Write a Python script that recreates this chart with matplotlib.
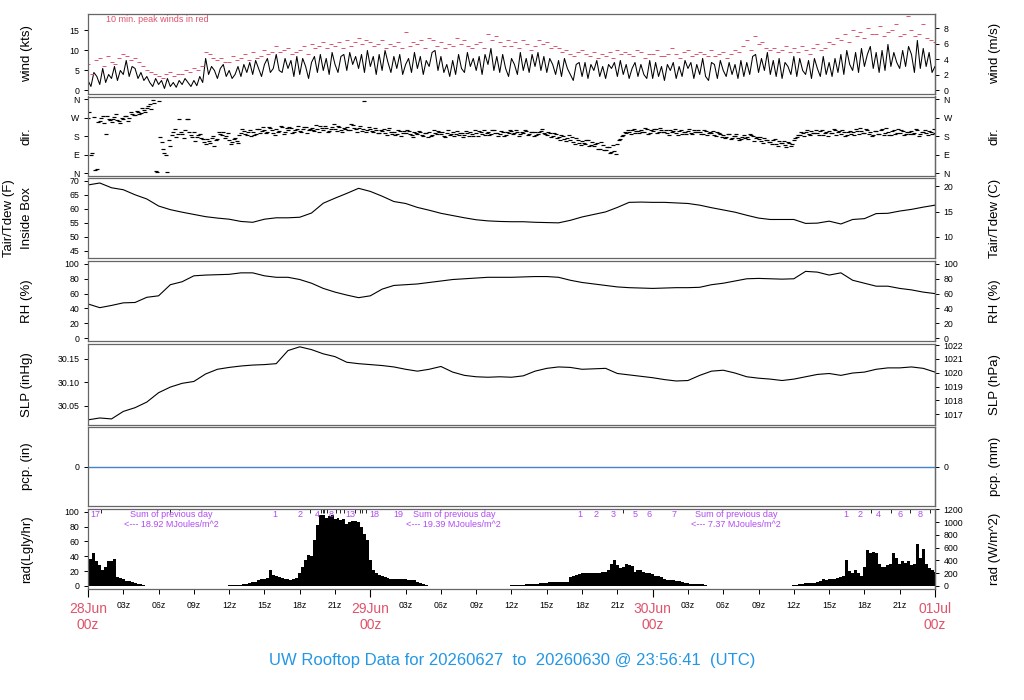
import matplotlib
matplotlib.use('Agg')
import matplotlib.pyplot as plt
import numpy as np

plt.rcParams['font.family'] = ['Liberation Sans', 'DejaVu Sans']

# ---------------- data (hours since 28Jun 00z) ----------------
# wind speed (kts), every 15 min
wind_kts = [
 2.5,1.0,4.5,3.5, 1.5,5.5,2.0,4.0, 3.0,6.0,2.5,5.0, 4.0,7.5,3.5,6.0, 5.5,3.0,4.5,2.5,
 3.5,2.0,1.0,3.0, 1.5,2.5,0.5,3.0, 1.0,2.0,0.8,2.5, 1.5,3.0,2.0,1.0, 2.5,1.2,3.5,2.0,
 8.0,4.0,6.0,5.0, 3.0,5.5,6.5,3.5, 5.0,3.0,4.0,6.0, 3.5,6.5,4.5,7.0, 4.0,7.5,5.5,3.5,
 6.5,8.0,4.5,5.5, 9.0,5.0,4.5,8.0, 5.5,7.5,3.5,8.5, 4.0,8.0,6.0,3.0, 7.0,8.5,4.5,9.0,
 5.0,8.0,4.0,9.5, 6.5,4.5,8.5,9.0, 5.0,9.5,6.5,8.5, 5.5,9.0,4.5,10.0, 6.0,8.5,4.0,9.0,
 5.0,10.0,7.0,4.5, 8.5,5.5,9.0,4.0, 6.5,8.0,4.5,9.5, 5.5,8.5,4.0,7.5, 6.0,9.5,10.0,5.0,
 8.5,4.5,6.5,3.5, 7.5,4.0,9.0,5.5, 4.5,9.5,6.0,8.0, 5.0,8.5,4.0,9.0, 6.5,10.5,5.0,8.5,
 4.5,9.0,5.5,3.5, 8.0,6.5,4.0,9.5, 5.0,8.0,4.5,9.0, 6.0,9.5,5.0,8.5, 4.5,8.0,6.5,4.0,
 7.5,3.5,8.0,5.5, 4.0,2.5,6.5,7.0, 3.5,7.0,3.0,6.5, 5.0,7.5,3.5,6.0, 3.0,6.5,5.5,7.0,
 3.5,7.5,4.0,6.5, 3.0,5.5,7.0,3.5, 6.5,4.0,3.0,7.5, 3.0,7.0,3.5,6.0, 2.5,6.5,5.0,7.0,
 3.0,6.0,3.5,7.5, 5.5,7.0,3.0,6.5, 4.0,8.0,3.5,2.5, 7.0,6.5,3.0,7.5, 5.0,3.5,7.0,4.0,
 6.5,3.0,7.5,3.5, 7.0,4.0,8.5,9.0, 4.5,8.0,5.0,9.5, 4.0,7.5,3.5,8.0, 3.0,7.0,6.0,4.0,
 8.5,3.5,8.0,5.0, 4.0,7.5,3.0,8.0, 5.5,3.5,8.5,4.0, 7.0,3.5,8.0,4.5, 9.0,4.0,10.0,6.5,
 5.0,9.5,4.5,10.5, 6.0,9.0,11.0,5.5, 9.5,4.5,10.0,5.0, 11.5,6.0,9.5,7.0, 5.5,10.0,6.0,11.0,
 9.0,4.5,12.5,5.5, 10.5,6.0,9.5,4.5, 6.0]

# 10-min peak winds (kts), every 20 min
gust_kts = [
 6.5,4.0,7.5, 8.0,6.0,8.5, 7.0,6.5,8.0, 9.0,8.5,7.5, 8.0,7.0,6.0, 5.0,4.5,4.0,
 3.5,3.0,4.0, 4.5,3.5,4.0, 4.0,5.0,4.5, 5.5,5.0,6.0, 9.5,9.0,8.0, 7.5,8.0,7.0,
 7.0,8.5,7.5, 8.0,9.0,7.5, 9.5,8.0,8.5, 10.0,9.0,9.5, 11.0,9.5,10.0, 10.5,9.0,9.5,
 10.0,11.0,9.0, 11.5,10.5,11.0, 12.0,10.5,11.5, 11.0,12.0,10.5, 12.5,11.0,12.0, 13.0,11.5,12.5,
 12.0,11.0,11.5, 12.5,10.5,11.5, 11.0,12.0,10.5, 14.5,11.0,12.0, 11.5,12.5,10.5, 13.0,12.5,11.0,
 12.0,10.5,11.5, 11.0,13.0,11.5, 12.5,11.0,10.5, 11.5,12.0,10.5, 14.0,12.5,13.5, 12.0,11.0,12.5,
 11.0,12.0,10.5, 12.5,11.5,10.0, 11.0,12.5,11.5, 12.0,10.5,11.0, 10.5,9.5,10.0, 9.0,8.5,9.5,
 10.0,9.0,8.5, 9.5,8.0,9.0, 8.5,9.5,8.0, 10.0,9.0,9.5, 9.0,8.5,10.0, 9.5,8.0,9.0,
 9.0,10.0,8.5, 8.5,9.0,10.5, 9.0,8.0,9.5, 10.0,8.5,9.0, 9.5,9.0,8.5, 10.0,8.5,9.0,
 9.5,8.0,9.0, 10.0,9.5,11.0, 12.5,10.0,13.5, 11.5,12.0,10.5, 10.0,10.5,9.5, 10.0,11.0,9.5,
 10.5,9.5,11.0, 10.0,9.0,10.5, 11.5,10.0,10.5, 12.0,11.5,13.0, 12.5,14.0,12.0, 15.0,13.5,14.5,
 13.0,15.5,14.0, 14.0,16.0,13.5, 14.5,15.0,16.5, 13.5,14.0,18.5, 15.0,13.5,14.0, 16.5,13.0,12.5,
 12.0]

# wind direction (deg), every 15 min on the quarter hours ...
wind_dir = [
 270,90,275,20, 255,280,190,265, 250,275,260,245, 265,280,270,290, 285,300,295,310,
 320,340,355,10, 350,150,100,5, 130,200,175,265, 190,210,265,185, 200,175,190,165,
 140,155,170,130, 165,190,200,180, 160,150,170,145, 195,205,185,210, 200,190,215,205,
 210,200,220,195, 215,205,225,200, 210,220,200,215, 205,215,225,210, 220,205,215,230,
 210,220,205,225, 215,230,210,220, 225,210,235,215, 220,205,350,210, 215,200,210,195,
 205,195,210,200, 200,190,205,195, 195,205,185,200, 190,200,180,195, 200,185,195,205,
 190,180,195,185, 200,190,185,195, 185,195,200,180, 195,205,190,185, 200,190,210,195,
 190,200,185,195, 205,195,200,190, 195,205,190,200, 200,190,205,195, 185,195,180,190,
 175,185,165,170, 160,150,170,145, 155,140,160,135, 130,145,120,135, 115,125,105,110,
 140,165,185,195, 200,210,195,205, 210,200,215,195, 205,215,200,210, 200,195,210,205,
 195,205,190,200, 205,195,210,200, 200,190,205,195, 195,185,200,190, 185,175,190,170,
 180,170,165,185, 175,190,180,170, 165,155,170,160, 150,160,140,155, 145,135,150,130,
 160,175,185,195, 200,190,205,195, 195,205,185,200, 205,195,210,200, 190,200,185,205,
 200,215,190,205, 195,210,200,185, 205,190,215,195, 200,185,210,195, 195,205,190,200,
 205,195,210,190, 200,195,205,190, 195]
# ... and in between (7.5 min later)
wind_dir_mid = [
 300,100,15,250, 270,245,280,260, 265,290,255,270, 280,255,300,285, 305,290,320,300,
 330,315,345,5, 175,120,90,160, 185,215,190,200, 170,265,200,175, 155,185,170,150,
 165,145,180,160, 200,185,170,195, 140,165,155,185, 215,190,200,180, 185,215,195,225,
 195,225,210,185, 200,230,190,220, 225,195,210,230, 200,225,195,215, 210,235,200,220,
 230,200,215,240, 205,225,200,215, 210,240,220,200, 230,215,200,225, 205,220,195,210,
 215,185,220,190, 185,210,180,205, 210,190,175,195, 205,185,195,175, 180,210,190,200,
 200,175,210,190, 180,205,195,175, 205,180,190,210, 180,200,210,195, 185,210,195,180,
 205,180,200,210, 190,210,180,200, 210,185,200,180, 185,200,215,190, 200,175,195,170,
 160,180,155,185, 175,140,160,135, 145,160,130,150, 140,120,150,115, 125,100,135,95,
 160,180,200,210, 190,215,205,195, 200,220,190,210, 215,195,220,200, 210,185,200,215,
 185,210,200,190, 215,190,200,210, 190,210,185,200, 205,180,195,175, 170,190,165,180,
 190,160,175,170, 165,185,155,175, 175,145,160,150, 140,165,130,145, 155,125,145,140,
 170,185,200,180, 210,185,195,210, 185,210,195,180, 195,215,185,205, 210,180,200,190,
 185,205,220,195, 215,190,180,205, 190,210,185,220, 185,205,190,215, 210,185,200,190,
 190,215,180,200, 210,185,200,215]

# hourly air temperature (F)
temp_f = [68.5,69.2,67.5,66.8,65.0,63.5,61.0,59.7,58.8,58.0,57.2,56.7,56.3,55.5,55.2,56.3,
          56.8,56.8,57.0,58.5,62.0,63.8,65.5,67.3,66.2,64.5,62.6,61.9,60.5,59.5,58.4,57.6,
          56.8,56.1,55.7,55.5,55.4,55.4,55.2,55.1,55.0,55.9,57.1,58.0,58.9,60.5,62.3,62.4,
          62.3,62.3,62.1,61.9,61.3,60.4,59.6,58.8,57.7,56.7,56.2,56.2,56.2,54.8,54.9,55.6,
          54.6,56.2,56.5,58.3,58.4,59.2,59.8,60.6,61.3]

# hourly relative humidity (%)
rh_pct = [46,41,44,47.5,48,55,57,72,76,84,85,85.5,86,88,88,84,82,82,79,74,67,62,58,54.5,
          57,66,71,72,73,75,77,79,80,81,82,82,82,82.5,83,83,82,78,75,73,71,69,68,67.5,
          67,67.5,68,68,68.5,72,74,77,80,80.5,80,79.5,80,90,89,85,88,78,74,70,70,67,65,62,60]

# hourly sea level pressure (inHg)
slp_inhg = [30.020,30.024,30.022,30.038,30.046,30.058,30.078,30.090,30.098,30.102,30.118,30.128,
            30.132,30.135,30.137,30.138,30.140,30.168,30.176,30.170,30.161,30.155,30.143,30.140,
            30.138,30.136,30.133,30.128,30.124,30.128,30.134,30.122,30.115,30.112,30.111,30.112,
            30.111,30.114,30.124,30.130,30.133,30.132,30.128,30.129,30.130,30.119,30.116,30.113,
            30.110,30.106,30.103,30.104,30.115,30.124,30.126,30.120,30.112,30.109,30.107,30.104,
            30.107,30.112,30.117,30.119,30.115,30.120,30.122,30.128,30.131,30.131,30.133,30.130,
            30.122]

# precipitation (in)
pcp_hours = [0, 72]
pcp_in = [0.0, 0.0]

# solar radiation (Langley/hr), every 15 min, in daylight segments
rad_day1_start = 0
rad_day1 = [42,36,44,34,28,22,26,33,34,36,12,11,9,7,7,5,4,3,2,1,0.5]
rad_day2_start = 12
rad_day2 = [1,1,1,1, 1.5,2,3,4, 5,6,8,9, 10,11,21,15, 13,12,11,10, 9,8,9,11,
            18,26,35,42, 40,62,82,95, 96,92,94,95, 90,91,89,90, 84,86,88,87,
            86,80,70,62, 35,21,18,15, 14,12,11,10, 10,9,9,9, 9,8,8,8, 5,4,2,1, 0.5]
rad_day3_start = 36
rad_day3 = [1,1.2,1.4,1.6, 1.8,2,2.2,2.5, 2.8,3,3.5,4, 4.5,4.8,5,5.2, 5,5.5,5.5,5,
            12,14,15,16, 17,17.5,17,18, 17.5,18,17,18.5, 19,22,30,35, 28,24,26,29,
            28,27,19,21, 22,19,18,17, 16,14,13,12, 10,8.5,8,7.5, 7,6.5,5,4,
            3.5,3.2,3,2.8, 2.5,2,1,0.5]
rad_day4_start = 60
rad_day4 = [1,1.5,2,3, 3.5,3.5,4,4, 5,7,9,8, 9,9,10,11, 12,14,35,20, 17,21,18,13,
            25,49,44,46, 44,30,26,25, 28,30,44,38, 30,33,31,33, 28,30,57,37,
            50,30,24,22, 19]

# cumulative radiation labels (MJ/m^2) on top of rad panel
rad_sum_labels = ['17', '1', '2', '4', '8', '13', '18', '19',
                  '1', '2', '3', '5', '6', '7', '1', '2', '4', '6', '8']
rad_sum_hours = [0.6, 15.9, 18.0, 19.5, 20.7, 22.3, 24.3, 26.4,
                 41.8, 43.2, 44.6, 46.5, 47.7, 49.8, 64.4, 65.6, 67.2, 69.0, 70.7]
rad_sum_tick_hours = [1.1, 7.0, 18.9, 19.8, 19.95, 20.1, 20.3, 21.1, 21.4, 21.8,
                      22.7, 23.1, 23.3, 23.6, 45.5, 66.6, 68.3, 69.9, 71.6]
day_totals = ['18.92', '19.39', '7.37']
day_total_hours = [7.1, 31.1, 55.1]

day_ticks = [0, 24, 48, 72]
day_labels = ['28Jun', '29Jun', '30Jun', '01Jul']
hour_ticks = [3, 6, 9, 12, 15, 18, 21, 27, 30, 33, 36, 39, 42, 45,
              51, 54, 57, 60, 63, 66, 69]
hour_labels = ['03z', '06z', '09z', '12z', '15z', '18z', '21z', '03z', '06z', '09z', '12z',
               '15z', '18z', '21z', '03z', '06z', '09z', '12z', '15z', '18z', '21z']

title = 'UW Rooftop Data for 20260627  to  20260630 @ 23:56:41  (UTC)'

# ---------------- figure ----------------
W, H = 1024, 700
fig = plt.figure(figsize=(W / 100, H / 100), dpi=100)
fig.patch.set_facecolor('white')

x0, x1 = 88, 935
panels_px = [(14, 93.5), (96.5, 176), (178.5, 258.5), (261, 341),
             (344, 425), (427, 506), (509, 588.5)]

RED = '#DF536B'
PURPLE = '#B04AF0'
TICK_FS = 6.3
LAB_FS = 9.5
FRAME = '#666666'
FRAME_LW = 0.9

axes = []
for (top, bot) in panels_px:
    ax = fig.add_axes([x0 / W, 1 - bot / H, (x1 - x0) / W, (bot - top) / H])
    ax.set_xlim(0, 72)
    for s in ax.spines.values():
        s.set_color(FRAME)
        s.set_linewidth(FRAME_LW)
    ax.tick_params(axis='x', bottom=False, labelbottom=False)
    ax.tick_params(axis='y', direction='out', length=3.2, width=0.7, labelsize=TICK_FS,
                   pad=3, colors='black')
    axes.append(ax)

def right_axis(ax, f, finv, ticks, labels=None):
    sec = ax.secondary_yaxis('right', functions=(f, finv))
    sec.set_yticks(ticks)
    if labels is not None:
        sec.set_yticklabels(labels)
    sec.tick_params(axis='y', direction='out', length=3.2, width=0.7, labelsize=TICK_FS,
                    pad=3)
    for s in sec.spines.values():
        s.set_color(FRAME)
        s.set_linewidth(FRAME_LW)
    return sec

def ylab(top, bot, text, x=27):
    yc = 1 - (top + bot) / 2 / H
    fig.text(x / W, yc, text, rotation=90, ha='center', va='center', fontsize=LAB_FS)

# wind
ax = axes[0]
t_w = np.arange(len(wind_kts)) * 0.25
t_g = np.arange(len(gust_kts)) / 3.0
ax.plot(t_w, wind_kts, color='black', lw=0.75)
ax.plot(t_g, gust_kts, ls='none', marker='_', ms=3.0, mew=0.7, color=RED)
ax.set_ylim(-0.75, 19.1)
ax.set_yticks([0, 5, 10, 15])
right_axis(ax, lambda v: v * 0.514444, lambda v: v / 0.514444, [0, 2, 4, 6, 8])
ax.text(1.5, 0.937, '10 min. peak winds in red', transform=ax.get_xaxis_transform(),
        color=RED, fontsize=6.5, ha='left', va='center')
ylab(*panels_px[0], 'wind (kts)')
ylab(*panels_px[0], 'wind (m/s)', x=995)

# direction
ax = axes[1]
t_d = np.arange(len(wind_dir)) * 0.25
t_dm = np.arange(len(wind_dir_mid)) * 0.25 + 0.125
ax.plot(t_d, wind_dir, ls='none', marker='_', ms=3.0, mew=0.85, color='black')
ax.plot(t_dm, wind_dir_mid, ls='none', marker='_', ms=3.0, mew=0.85, color='black')
ax.set_ylim(-14.4, 374.4)
ax.set_yticks([0, 90, 180, 270, 360])
ax.set_yticklabels(['N', 'E', 'S', 'W', 'N'])
right_axis(ax, lambda v: v, lambda v: v, [0, 90, 180, 270, 360], ['N', 'E', 'S', 'W', 'N'])
ylab(*panels_px[1], 'dir.')
ylab(*panels_px[1], 'dir.', x=995)

# temperature
ax = axes[2]
t_h = np.arange(len(temp_f))
ax.plot(t_h, temp_f, color='black', lw=0.8)
ax.set_ylim(42.3, 70.8)
ax.set_yticks([45, 50, 55, 60, 65, 70])
right_axis(ax, lambda v: (v - 32) * 5 / 9, lambda v: v * 9 / 5 + 32, [10, 15, 20])
ylab(*panels_px[2], 'Inside Box')
ylab(*panels_px[2], 'Tair/Tdew (F)', x=9)
ylab(*panels_px[2], 'Tair/Tdew (C)', x=995)

# RH
ax = axes[3]
ax.plot(np.arange(len(rh_pct)), rh_pct, color='black', lw=0.8)
ax.set_ylim(-4, 104)
ax.set_yticks([0, 20, 40, 60, 80, 100])
right_axis(ax, lambda v: v, lambda v: v, [0, 20, 40, 60, 80, 100])
ylab(*panels_px[3], 'RH (%)')
ylab(*panels_px[3], 'RH (%)', x=995)

# SLP
ax = axes[4]
ax.plot(np.arange(len(slp_inhg)), slp_inhg, color='black', lw=0.8)
ax.set_ylim(30.009, 30.182)
ax.set_yticks([30.05, 30.10, 30.15])
ax.set_yticklabels(['30.05', '30.10', '30.15'])
right_axis(ax, lambda v: v * 33.8639, lambda v: v / 33.8639,
           [1017, 1018, 1019, 1020, 1021, 1022])
ylab(*panels_px[4], 'SLP (inHg)')
ylab(*panels_px[4], 'SLP (hPa)', x=995)

# precipitation
ax = axes[5]
ax.plot(pcp_hours, pcp_in, color='#4682C8', lw=1.0)
ax.set_ylim(-1, 1)
ax.set_yticks([0])
right_axis(ax, lambda v: v * 25.4, lambda v: v / 25.4, [0])
ylab(*panels_px[5], 'pcp. (in)')
ylab(*panels_px[5], 'pcp. (mm)', x=995)

# radiation
ax = axes[6]
for start, seg in [(rad_day1_start, rad_day1), (rad_day2_start, rad_day2),
                   (rad_day3_start, rad_day3), (rad_day4_start, rad_day4)]:
    tt = start + np.arange(len(seg)) * 0.25
    ax.bar(tt, seg, width=0.25, color='black', linewidth=0)
ax.set_xlim(0, 72)
ax.set_ylim(-3.4, 103.6)
ax.set_yticks([0, 20, 40, 60, 80, 100])
right_axis(ax, lambda v: v * 11.63, lambda v: v / 11.63,
           [0, 200, 400, 600, 800, 1000, 1200])
ylab(*panels_px[6], 'rad(Lgly/hr)')
ylab(*panels_px[6], 'rad (W/m^2)', x=995)
trans = ax.get_xaxis_transform()
for h, s in zip(rad_sum_hours, rad_sum_labels):
    ax.text(h, 0.925, s, transform=trans, color=PURPLE, fontsize=6.5, ha='center', va='center')
ax.vlines(rad_sum_tick_hours, 0.955, 1.0, transform=trans, color='black', lw=0.6)
for h, tot in zip(day_total_hours, day_totals):
    ax.text(h, 0.925, 'Sum of previous day', transform=trans, color=PURPLE, fontsize=6.5,
            ha='center', va='center')
    ax.text(h, 0.81, '<--- ' + tot + ' MJoules/m^2', transform=trans, color=PURPLE,
            fontsize=6.5, ha='center', va='center')

# x axis on bottom panel
ax.set_xticks(day_ticks)
ax.set_xticks(hour_ticks, minor=True)
ax.tick_params(axis='x', which='major', bottom=True, length=6, width=0.8, direction='out',
               labelbottom=False)
ax.tick_params(axis='x', which='minor', bottom=True, length=3.6, width=0.7, direction='out',
               labelbottom=False)
for h, s in zip(hour_ticks, hour_labels):
    ax.text(h, -0.22, s, transform=trans, fontsize=TICK_FS, ha='center', va='center')
for h, s in zip(day_ticks, day_labels):
    ax.text(h, -0.26, s, transform=trans, fontsize=10, color=RED, ha='center', va='center')
    ax.text(h, -0.465, '00z', transform=trans, fontsize=10, color=RED, ha='center', va='center')

fig.text(0.5, 1 - 660 / H, title, ha='center', va='center', fontsize=12, color='#2297E6')

fig.savefig('out.png', dpi=100, facecolor='white')
